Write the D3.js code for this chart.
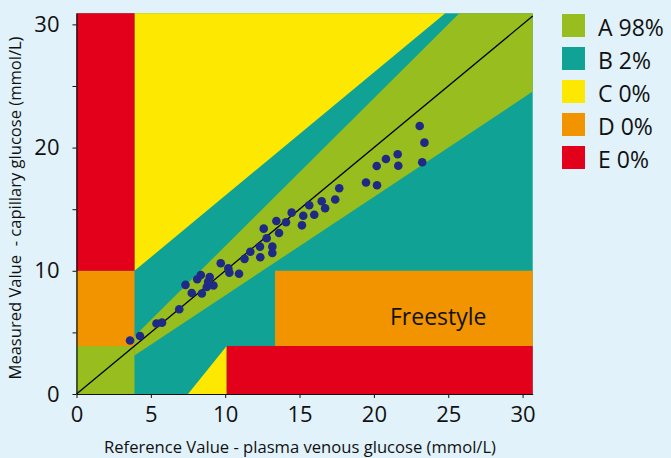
<!DOCTYPE html>
<html>
<head>
<meta charset="utf-8">
<script src="https://cdn.jsdelivr.net/npm/d3@7"></script>
<style>
  body { margin: 0; background: #e1f2fa; }
  svg { display: block; font-family: "Open Sans", sans-serif; }
</style>
</head>
<body>
<svg id="chart" width="671" height="458"></svg>
<script>
// reference (plasma) vs measured (capillary) glucose, mmol/L
const refValues = [3.60, 4.27, 5.38, 5.75, 6.91, 7.33, 7.75, 8.12, 8.36, 8.43,
  8.96, 8.76, 9.21, 8.85, 9.70, 10.21, 10.28, 10.93, 11.30, 11.69,
  12.36, 12.34, 12.79, 13.17, 13.17, 12.59, 13.44, 13.62, 14.09, 14.47,
  15.16, 15.25, 15.65, 15.99, 16.49, 16.72, 17.40, 17.67, 19.47, 20.21,
  20.19, 20.81, 21.60, 21.64, 23.08, 23.40, 23.25];
const measValues = [4.34, 4.71, 5.72, 5.79, 6.88, 8.86, 8.20, 9.31, 9.66, 8.16,
  9.50, 8.69, 8.81, 9.10, 10.61, 10.20, 9.85, 9.76, 10.97, 11.55,
  11.10, 11.96, 12.64, 11.96, 11.44, 13.42, 14.04, 13.07, 13.94, 14.72,
  13.69, 14.47, 15.32, 14.55, 15.64, 15.08, 15.79, 16.70, 17.17, 16.94,
  18.51, 19.07, 19.46, 18.53, 21.75, 20.40, 18.81];

const zoneNames = ["A", "B", "C", "D", "E"];
const zonePct = [98, 2, 0, 0, 0];
const zoneColors = ["#97be1e", "#0fa295", "#fce800", "#f29400", "#e2001a"];

const xTicks = [0, 5, 10, 15, 20, 25, 30];
const yTicks = [0, 5, 10, 15, 20, 25, 30];

// error grid limits (mmol/L)
const hypo = 3.9, hyper = 10, dRight = 13.35, cOffset = 6.1;
const cLowStart = 7.5, eLowStart = 10.1;
const xMax = 30.68, yMax = 30.9;

const svg = d3.select("#chart");
const x = d3.scaleLinear().domain([0, xMax]).range([76.5, 532.7]);
const y = d3.scaleLinear().domain([0, yMax]).range([394, 13.3]);

const col = {};
zoneNames.forEach((n, i) => col[n] = zoneColors[i]);

const line = d3.line().x(d => x(d[0])).y(d => y(d[1]));
const zones = svg.append("g");

const poly = (pts, fill) => zones.append("path").attr("d", line(pts) + "Z").attr("fill", fill);

// B everywhere first
poly([[0, 0], [xMax, 0], [xMax, yMax], [0, yMax]], col.B);
// C upper
poly([[hypo, hypo + cOffset], [yMax - cOffset, yMax], [hypo, yMax]], col.C);
// C lower
poly([[cLowStart, 0], [eLowStart, hypo], [eLowStart, 0]], col.C);
// A band (+/- 20%) and low corner
poly([[hypo, hypo * 0.8], [xMax, xMax * 0.8], [xMax, yMax], [yMax / 1.2, yMax], [hypo, hypo * 1.2]], col.A);
poly([[0, 0], [hypo, 0], [hypo, hypo], [0, hypo]], col.A);
// D and E
poly([[0, hypo], [hypo, hypo], [hypo, hyper], [0, hyper]], col.D);
poly([[0, hyper], [hypo, hyper], [hypo, yMax], [0, yMax]], col.E);
poly([[dRight, hypo], [xMax, hypo], [xMax, hyper], [dRight, hyper]], col.D);
poly([[eLowStart, 0], [xMax, 0], [xMax, hypo], [eLowStart, hypo]], col.E);

// identity line
svg.append("path")
  .attr("d", line([[0, 0], [xMax, xMax]]))
  .attr("stroke", "#000").attr("stroke-width", 1.3).attr("fill", "none");

svg.append("text")
  .attr("x", 390).attr("y", 325)
  .attr("font-size", 23).attr("fill", "#111")
  .text("Freestyle");

// points
svg.append("g").selectAll("circle")
  .data(refValues.map((r, i) => [r, measValues[i]]))
  .join("circle")
  .attr("cx", d => x(d[0]))
  .attr("cy", d => y(d[1]))
  .attr("r", 4.3)
  .attr("fill", "#1e2a85");

// axes
const yAxis = svg.append("g")
  .attr("transform", "translate(76.5,0)")
  .call(d3.axisLeft(y).tickValues(yTicks).tickFormat(d => d % 10 === 0 ? d : "")
    .tickSize(4).tickSizeOuter(0).tickPadding(13));
const xAxis = svg.append("g")
  .attr("transform", "translate(0,394)")
  .call(d3.axisBottom(x).tickValues(xTicks).tickSize(4).tickSizeOuter(0).tickPadding(8));

[xAxis, yAxis].forEach(a => {
  a.attr("font-family", null).attr("font-size", null);
  a.selectAll("text").attr("font-size", 22).attr("fill", "#111");
  a.select(".domain").attr("stroke", "#111").attr("stroke-width", 1.2);
  a.selectAll(".tick line").attr("stroke", "#111");
});

svg.append("text")
  .attr("x", 300).attr("y", 453)
  .attr("text-anchor", "middle")
  .attr("font-size", 17).attr("fill", "#111")
  .attr("textLength", 392).attr("lengthAdjust", "spacingAndGlyphs")
  .text("Reference Value - plasma venous glucose (mmol/L)");

svg.append("text")
  .attr("transform", "translate(21,208) rotate(-90)")
  .attr("text-anchor", "middle")
  .attr("font-size", 17).attr("fill", "#111")
  .attr("textLength", 343).attr("lengthAdjust", "spacingAndGlyphs")
  .style("white-space", "pre")
  .text("Measured Value  - capillary glucose (mmol/L)");

// legend
const legend = svg.append("g").selectAll("g")
  .data(zoneNames)
  .join("g")
  .attr("transform", (d, i) => `translate(562,${14 + i * 33})`);
legend.append("rect")
  .attr("width", 23).attr("height", 23)
  .attr("fill", (d, i) => zoneColors[i]);
legend.append("text")
  .attr("x", 36).attr("y", 22)
  .attr("font-size", 23).attr("fill", "#111")
  .text((d, i) => `${d} ${zonePct[i]}%`);
</script>
</body>
</html>
